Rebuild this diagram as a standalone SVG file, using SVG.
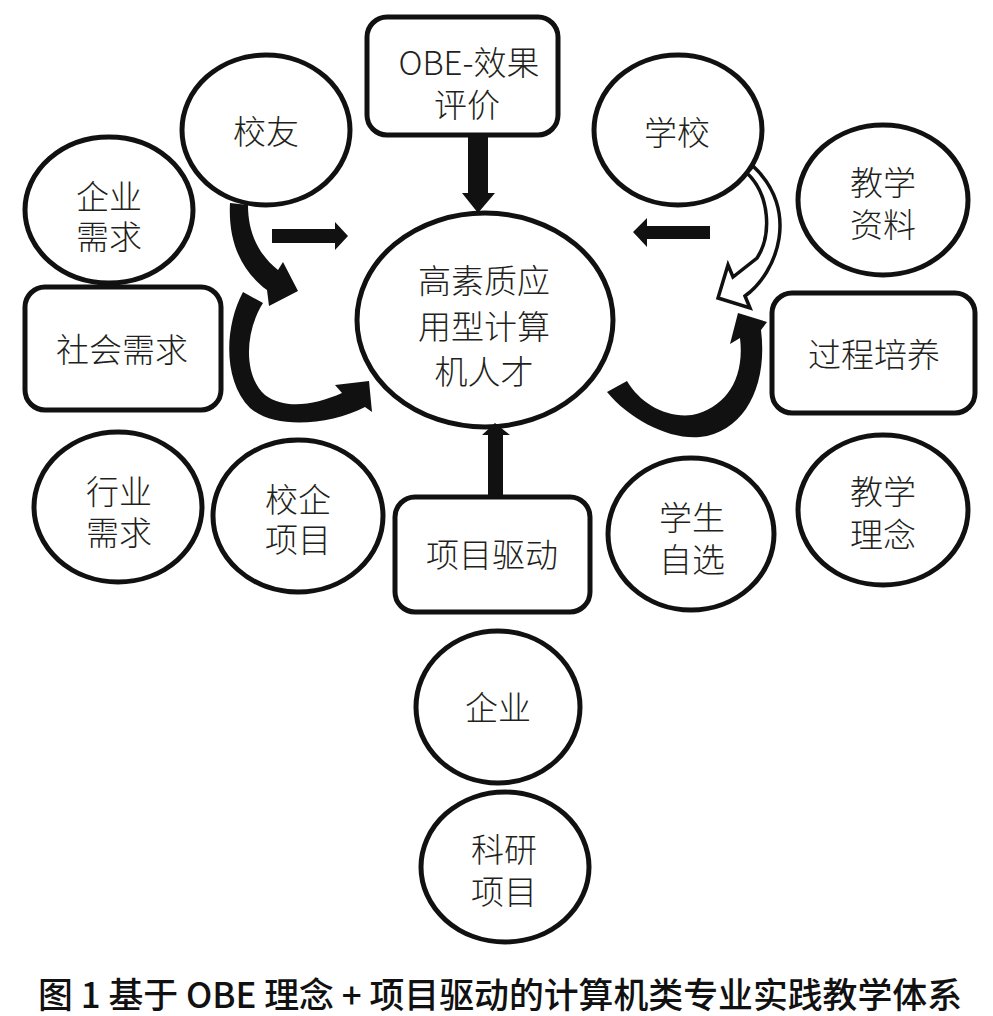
<svg xmlns="http://www.w3.org/2000/svg" width="993" height="1016" viewBox="0 0 993 1016">
<style>
.n{fill:#fff;stroke:#111;stroke-width:5}
.t{font-family:"Noto Sans CJK SC","Noto Sans",sans-serif;font-size:33px;font-weight:300;fill:#231f20;text-anchor:middle}
.a{fill:#111;stroke:none}
.h{fill:#fff;stroke:#111;stroke-width:3.5;stroke-linejoin:miter}
.cap{font-family:"Noto Sans CJK SC","Liberation Sans",sans-serif;font-size:35px;font-weight:500;fill:#111}
</style>
<rect width="993" height="1016" fill="#fff"/>
<g id="node-xiaoyou"><ellipse class="n" cx="266" cy="130" rx="84" ry="75"/><text class="t" x="266" y="144">校友</text></g>
<g id="node-qiyexuqiu"><ellipse class="n" cx="109" cy="210" rx="84" ry="73"/><text class="t"><tspan x="109" y="209">企业</tspan><tspan x="109" y="249">需求</tspan></text></g>
<g id="node-shehuixuqiu"><rect class="n" x="25" y="287" width="196" height="123" rx="20"/><text class="t" x="122" y="362">社会需求</text></g>
<g id="node-obe"><rect class="n" x="367" y="17" width="191" height="118" rx="20"/><text class="t"><tspan x="469" y="75">OBE-效果</tspan><tspan x="467" y="117">评价</tspan></text></g>
<g id="node-center"><ellipse class="n" cx="485" cy="320" rx="128" ry="107"/><text class="t"><tspan x="484" y="293">高素质应</tspan><tspan x="484" y="339">用型计算</tspan><tspan x="484" y="384">机人才</tspan></text></g>
<g id="node-xuexiao"><ellipse class="n" cx="678" cy="130" rx="84" ry="75"/><text class="t" x="677" y="145">学校</text></g>
<g id="node-jiaoxueziliao"><ellipse class="n" cx="883" cy="200" rx="85" ry="75"/><text class="t"><tspan x="883" y="195">教学</tspan><tspan x="883" y="237">资料</tspan></text></g>
<g id="node-guochengpeiyang"><rect class="n" x="772" y="293" width="203" height="120" rx="20"/><text class="t" x="874" y="367">过程培养</text></g>
<g id="node-hangyexuqiu"><ellipse class="n" cx="118" cy="507" rx="84" ry="75"/><text class="t"><tspan x="119" y="504">行业</tspan><tspan x="119" y="545">需求</tspan></text></g>
<g id="node-xiaoqixiangmu"><ellipse class="n" cx="298" cy="516" rx="85" ry="76"/><text class="t"><tspan x="298" y="512">校企</tspan><tspan x="298" y="552">项目</tspan></text></g>
<g id="node-xiangmuqudong"><rect class="n" x="395" y="497" width="195" height="115" rx="20"/><text class="t" x="492" y="567">项目驱动</text></g>
<g id="node-xueshengzixuan"><ellipse class="n" cx="691" cy="534" rx="83" ry="76"/><text class="t"><tspan x="692" y="530">学生</tspan><tspan x="692" y="572">自选</tspan></text></g>
<g id="node-jiaoxuelinian"><ellipse class="n" cx="883" cy="510" rx="85" ry="75"/><text class="t"><tspan x="883" y="504">教学</tspan><tspan x="883" y="547">理念</tspan></text></g>
<g id="node-qiye"><ellipse class="n" cx="498" cy="707" rx="82" ry="76"/><text class="t" x="498" y="720">企业</text></g>
<g id="node-keyanxiangmu"><ellipse class="n" cx="505" cy="867" rx="84" ry="75"/><text class="t"><tspan x="504" y="862">科研</tspan><tspan x="504" y="904">项目</tspan></text></g>
<g id="connectors">
<path class="a" d="M230,203 C228,240 240,270 267,290 L269,306 L298,291 L283,262 L278,270 C258,254 248,232 248,205 Z"/>
<path class="a" d="M243,292 C225,325 222,380 250,408 C275,430 330,425 365,407 L372,412 L369,381 L335,385 L342,393 C315,405 285,410 265,395 C245,378 243,335 263,303 Z"/>
<path class="a" d="M607,392 C630,420 670,440 700,437 C745,432 768,385 761,330 L767,322 L738,313 L730,344 L740,338 C745,380 725,408 692,415 C665,418 640,403 627,381 Z"/>
<path class="h" d="M747,173 C770,195 772,235 757,258 L733,277 L728,265 L718,298 L750,308 L745,296 C778,272 800,210 753,166 Z"/>
<path class="a" d="M272,229 L335,229 L335,222 L348,236 L335,250 L335,243 L272,243 Z"/>
<path class="a" d="M710,226 L647,226 L647,218 L633,232 L647,247 L647,239 L710,239 Z"/>
<path class="a" d="M468,133 L488,133 L488,193 L495,193 L478,213 L462,193 L468,193 Z"/>
<path class="a" d="M488,497 L503,497 L503,435 L510,435 L495,423 L482,435 L488,435 Z"/>
</g>
<text class="cap" x="38" y="1008" textLength="924" lengthAdjust="spacingAndGlyphs">图 1 基于 OBE 理念 + 项目驱动的计算机类专业实践教学体系</text>
</svg>
